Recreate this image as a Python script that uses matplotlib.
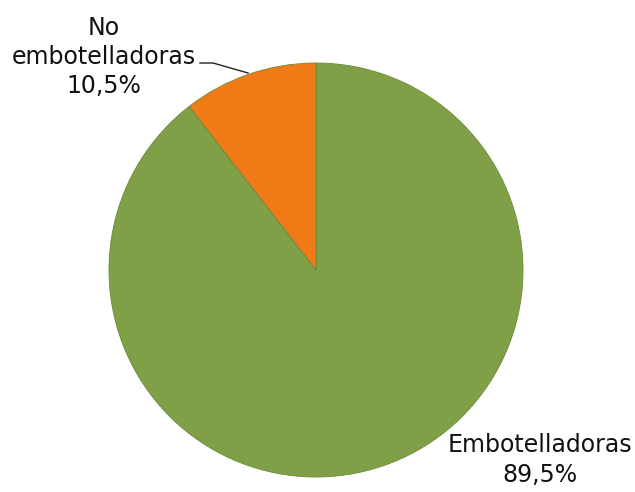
import matplotlib
matplotlib.use("Agg")
import matplotlib.pyplot as plt

categories = ["Embotelladoras", "No\nembotelladoras"]
values = [89.5, 10.5]
value_labels = ["89,5%", "10,5%"]
colors = ["#7fa046", "#f07a16"]

W, H = 635, 492
fig = plt.figure(figsize=(W / 100, H / 100), dpi=100)
ax = fig.add_axes([0, 0, 1, 1])

cx, cy, r = 316, H - 270, 207
ax.pie(values, colors=colors, startangle=90, counterclock=False,
       center=(cx, cy), radius=r, frame=True,
       wedgeprops=dict(edgecolor="#6b8a38", linewidth=0.6))
ax.set_xlim(0, W)
ax.set_ylim(0, H)
ax.set_aspect("equal")
ax.axis("off")

font = dict(family="DejaVu Sans", fontsize=17, color="#111111",
            ha="center", va="center", linespacing=1.28)
ax.text(540, H - 460, categories[0] + "\n" + value_labels[0], **font)
ax.text(104, H - 57, categories[1] + "\n" + value_labels[1], **font)

# leader line for small slice
ax.plot([200, 213, 248], [H - 63, H - 63, H - 73], color="#222222", lw=1)

fig.savefig("out.png", dpi=100)
